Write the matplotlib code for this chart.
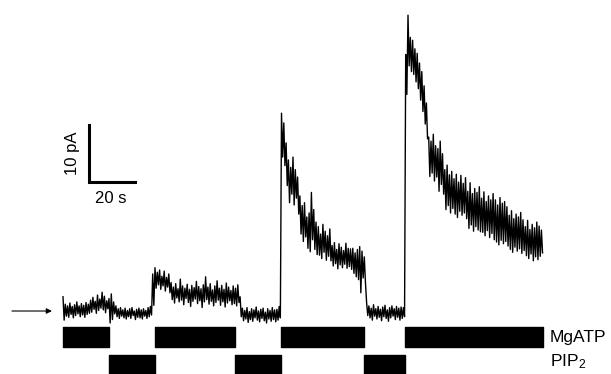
import numpy as np
import matplotlib
matplotlib.use("Agg")
from matplotlib import pyplot as plt

# current trace, 1 s per sample, upper / lower edge of the noise band (pA)
hi = [2.5, 1.2, 0.9, 1.4, 0.8, 1.1, 1.6, 0.9, 1.3, 1.0, 1.5, 1.2,
      1.9, 2.4, 1.7, 2.8, 2.1, 3.3, 2.6, 1.8, 2.2, 3.0, 1.6,
      0.9, 0.4, 0.6, 0.2, 0.5, 0.1, 0.4, 0.6, 0.0, 0.3, 0.5, 0.2, 0.4, 0.1, 0.6, 0.8,
      6.5,
      7.6, 6.8, 7.2, 6.1, 7.0, 5.9, 6.5,
      5.0, 4.2, 4.8, 3.9, 5.6, 4.4, 4.0, 4.7, 3.8, 4.5, 4.1, 5.2, 4.3, 3.9, 4.6,
      6.0, 4.2, 4.8, 3.7, 4.4, 5.3, 4.0, 4.5, 3.8, 4.9, 4.2, 3.6, 4.4, 4.0, 4.6,
      2.5,
      0.5, 0.1, 0.6, -0.1, 0.4, 0.2, 0.7, 0.0, 0.3, 0.5, -0.2, 0.4, 0.1, 0.6, 0.2, 0.3, 0.8,
      34.7, 33.0, 29.5,
      26.5, 25.2, 27.0, 24.8, 23.5,
      20.2, 18.5, 19.0,
      16.5, 17.2, 20.8, 17.8, 15.6,
      14.8, 13.5, 15.2, 14.0, 13.2, 14.4,
      11.5, 12.0, 10.8, 11.8, 11.2, 10.6, 11.9, 11.0, 10.9,
      11.0, 10.2, 10.8, 11.3, 10.5, 9.5,
      1.5,
      0.9, 0.5, 1.1, 0.4, 0.8, 0.3, 0.7, 1.0, 0.2, 0.6, 0.9, 0.4, 0.8, 0.5, 0.7, 0.6,
      45.0,
      51.9, 48.0, 47.5,
      46.0, 45.2, 43.5,
      42.0, 39.5, 36.5,
      30.5, 29.8, 31.0, 29.0,
      28.5, 29.8, 27.6,
      24.8, 25.6, 23.9, 24.5,
      23.2, 24.0, 22.6, 23.8, 22.4, 23.4,
      21.0, 22.5, 20.6, 21.5, 20.8, 21.8,
      19.8, 20.9, 19.2, 20.2, 19.5, 20.6,
      19.5, 18.6, 19.9, 18.9, 19.2, 18.3,
      16.8, 17.6, 16.2, 17.0, 16.5, 17.3, 16.0,
      14.8, 15.9, 14.3, 15.2, 14.6, 15.6, 14.9, 14.2]
lo = [-1.6, -0.9, -1.1, -0.6, -1.2, -0.8, -0.5, -1.0, -0.7, -1.1, -0.6, -0.4,
      -0.2, 0.3, -0.4, 0.1, 0.5, 0.2, -0.3, 0.4, -2.1, -1.5, -0.5,
      -1.0, -1.3, -0.9, -1.2, -1.4, -1.0, -1.3, -0.8, -1.5, -1.1, -1.2, -1.4, -0.9, -1.3, -1.0, -0.7,
      1.0,
      4.0, 4.6, 3.8, 4.4, 3.5, 4.2, 3.2,
      2.0, 1.4, 2.3, 1.6, 1.9, 1.1, 2.2, 1.5, 0.8, 1.7, 2.1, 1.3, 1.8, 0.6, 1.6,
      2.0, 1.2, 1.7, 0.9, 1.5, 1.9, 1.0, 1.6, 0.7, 1.4, 1.8, 1.1, 1.3, 0.9, 1.5,
      -1.0,
      -1.7, -1.4, -2.0, -1.5, -1.8, -1.2, -1.6, -1.9, -1.3, -1.7, -2.1, -1.4, -1.8, -1.5, -1.9, -1.6, -1.2,
      27.0, 25.5, 22.0,
      19.0, 20.5, 18.6, 19.8, 17.0,
      13.5, 12.2, 13.0,
      11.0, 10.4, 12.5, 10.8, 9.9,
      9.8, 9.2, 10.3, 8.9, 9.6, 8.8,
      7.9, 8.3, 7.4, 8.1, 7.6, 8.2, 7.5, 7.8, 7.3,
      6.6, 6.0, 5.5, 3.2, 5.8, 5.0,
      -0.8,
      -1.2, -1.6, -0.9, -1.4, -1.1, -1.7, -1.0, -1.3, -1.8, -1.2, -0.9, -1.5, -1.1, -1.6, -1.3, -1.0,
      38.0,
      43.0, 42.0, 41.5,
      40.2, 39.0, 37.0,
      35.0, 32.8, 30.2,
      23.6, 24.2, 22.8, 23.5,
      21.0, 22.2, 20.5,
      17.8, 18.5, 17.2, 18.0,
      17.0, 16.4, 17.5, 16.8, 17.2, 16.2,
      14.5, 15.1, 14.0, 14.8, 14.2, 13.9,
      13.8, 13.2, 14.1, 12.9, 13.6, 12.5,
      12.1, 11.6, 12.4, 11.8, 12.2, 11.4,
      10.8, 10.3, 11.2, 10.5, 10.9, 10.1, 10.6,
      9.7, 9.2, 10.0, 8.8, 9.5, 9.0, 9.6, 10.2]

# solution application periods (s)
mgatp = [(0, 20.1), (40, 75), (94.6, 130.7), (148.8, 208.5)]
pip2 = [(20.1, 40), (75, 94.6), (130.7, 148.8)]

plt.rcParams['font.family'] = ['Liberation Sans', 'DejaVu Sans']
plt.rcParams['mathtext.default'] = 'regular'

fig = plt.figure(figsize=(6.11, 3.74), dpi=100)
ax = fig.add_axes([0, 0, 1, 1])

t = np.arange(len(hi))
tt = np.column_stack([t, t + 0.5]).ravel()
yy = np.column_stack([hi, lo]).ravel()
ax.plot(tt, yy, color='black', lw=1.0)

# bars
ax.broken_barh([(a, b - a) for a, b in mgatp], (-6.3, 3.5), color='black')
ax.broken_barh([(a, b - a) for a, b in pip2], (-11.1, 3.4), color='black')
ax.text(211.7, -4.6, 'MgATP', fontsize=12.5, va='center', ha='left')
ax.text(211.7, -8.9, 'PIP$_2$', fontsize=12.5, va='center', ha='left')

# scale bar: 20 s, 10 pA
ax.plot([11.3, 11.3, 31.3], [32.6, 22.6, 22.6], color='black', lw=2.2,
        solid_joinstyle='miter')
ax.text(4.0, 27.6, '10 pA', rotation=90, fontsize=12, ha='center', va='center')
ax.text(20.6, 19.8, '20 s', fontsize=12, ha='center', va='center')

# zero current arrow
ax.annotate('', xy=(-4.8, 0), xytext=(-22.2, 0),
            arrowprops=dict(arrowstyle='-|>', color='black', lw=0.8,
                            mutation_scale=8, shrinkA=0, shrinkB=0))

ax.set_xlim(-27.39, 238.26)
ax.set_ylim(-11.05, 54.56)
ax.axis('off')
fig.savefig('out.png', dpi=100)
